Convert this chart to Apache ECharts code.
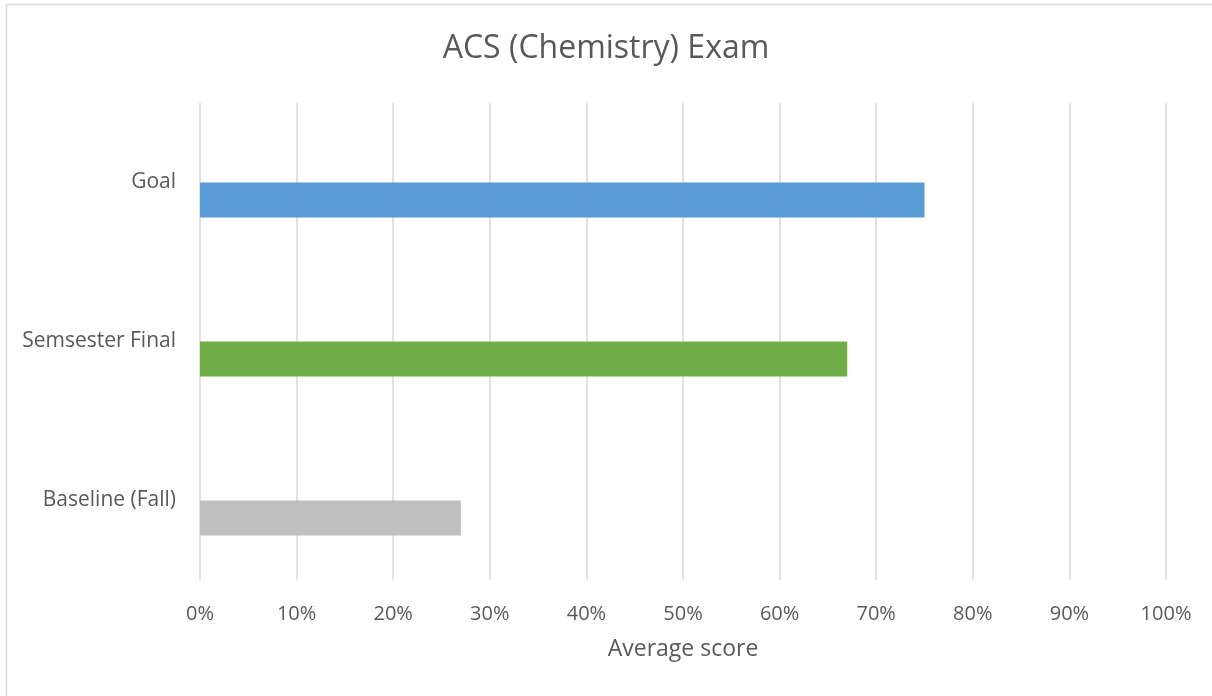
<!DOCTYPE html>
<html>
<head>
<meta charset="utf-8">
<script src="https://cdn.jsdelivr.net/npm/echarts@6/dist/echarts.min.js"></script>
<style>
  html, body { margin: 0; padding: 0; background: #fff; overflow: hidden; }
  #main { width: 1212px; height: 696px; }
</style>
</head>
<body>
<div id="main"></div>
<script>
var categories = ['Baseline (Fall)', 'Semsester Final', 'Goal'];
var scores = [27, 67, 75];
var barColors = ['#BFBFBF', '#70AD47', '#5B9BD5'];
var ticks = [0, 10, 20, 30, 40, 50, 60, 70, 80, 90, 100];

var textColor = '#595959';
var font = 'Open Sans';

var chart = echarts.init(document.getElementById('main'));

chart.setOption({
    backgroundColor: '#fff',
    animation: false,
    title: {
        text: 'ACS (Chemistry) Exam',
        left: 'center',
        top: 28,
        textStyle: { color: textColor, fontFamily: font, fontWeight: 'normal', fontSize: 32 }
    },
    // outer chart border: only top and left edges are visible
    graphic: [{
        type: 'line',
        shape: { x1: 6.5, y1: 4.5, x2: 1212, y2: 4.5 },
        style: { stroke: '#d9d9d9', lineWidth: 1.5 },
        silent: true
    }, {
        type: 'line',
        shape: { x1: 6.5, y1: 4.5, x2: 6.5, y2: 696 },
        style: { stroke: '#d9d9d9', lineWidth: 1.5 },
        silent: true
    }],
    grid: { left: 200, right: 46, top: 103, bottom: 116 },
    xAxis: {
        type: 'value',
        min: ticks[0],
        max: ticks[ticks.length - 1],
        interval: 10,
        name: 'Average score',
        nameLocation: 'middle',
        nameGap: 58,
        nameTextStyle: { color: textColor, fontFamily: font, fontSize: 23 },
        axisLine: { show: false },
        axisTick: { show: false },
        axisLabel: {
            color: textColor, fontFamily: font, fontSize: 20, margin: 24,
            formatter: function (v) { return v + '%'; }
        },
        splitLine: { lineStyle: { color: '#d9d9d9', width: 1.5 } }
    },
    yAxis: {
        type: 'category',
        data: categories,
        axisLine: { show: false },
        axisTick: { show: false },
        axisLabel: { color: textColor, fontFamily: font, fontSize: 21, margin: 24 }
    },
    series: [{
        type: 'bar',
        name: 'spacer',
        data: categories.map(function () { return null; }),
        barWidth: 35,
        barGap: '0%'
    }, {
        type: 'bar',
        name: 'Average score',
        barWidth: 35,
        barGap: '0%',
        data: scores.map(function (v, i) {
            return { value: v, itemStyle: { color: barColors[i] } };
        })
    }]
});
</script>
</body>
</html>
